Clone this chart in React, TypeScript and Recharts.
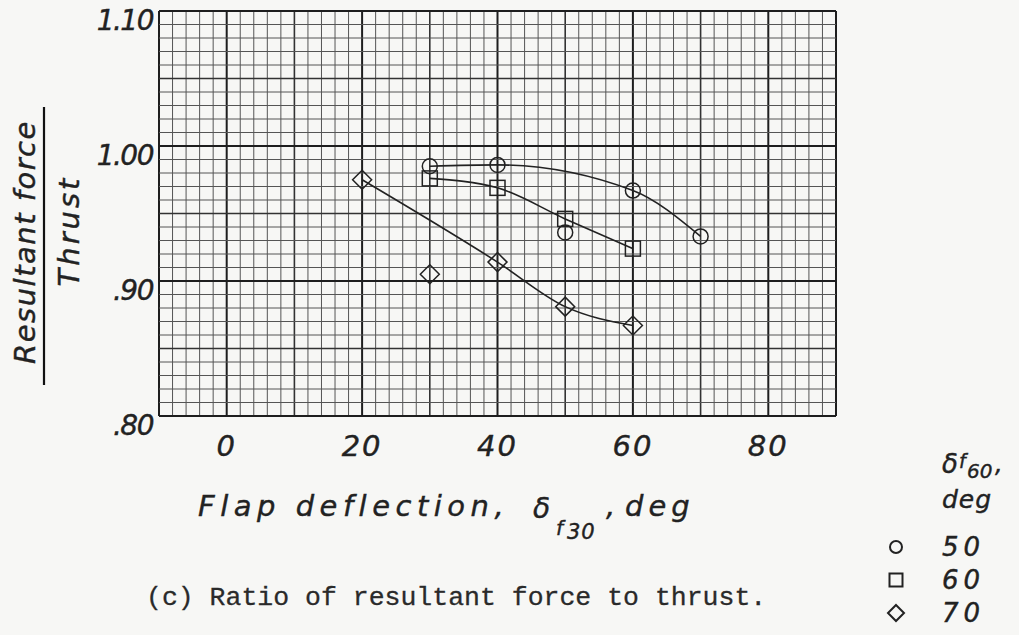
import React from 'react';
import { ComposedChart, Line, Scatter, XAxis, YAxis, ReferenceLine } from 'recharts';

// ---- axis ticks ----
const xTicks = [0, 20, 40, 60, 80];
const yTicks = [0.8, 0.9, 1.0, 1.1];
const yTickLabels = ['.80', '.90', '1.00', '1.10'];

// ---- measured points (delta_f60 = 50, 60, 70 deg) ----
const flap50 = [30, 40, 50, 60, 70];
const ratio50 = [0.985, 0.986, 0.936, 0.967, 0.933];
const flap60 = [30, 40, 50, 60];
const ratio60 = [0.976, 0.969, 0.946, 0.924];
const flap70 = [20, 30, 40, 50, 60];
const ratio70 = [0.975, 0.905, 0.914, 0.881, 0.867];

// ---- faired curves ----
const fairFlap50 = [30, 40, 60, 70];
const fairRatio50 = [0.985, 0.986, 0.967, 0.933];
const fairFlap60 = [30, 40, 50, 60];
const fairRatio60 = [0.976, 0.969, 0.946, 0.924];
const fairFlap70 = [20, 40, 50, 60];
const fairRatio70 = [0.975, 0.914, 0.881, 0.867];

const legendLabels = ['50', '60', '70'];

const toPts = (xs: number[], ys: number[]) => xs.map((x, i) => ({ x, y: ys[i] }));

const INK = '#222';
const FONT = '"DejaVu Sans", Verdana, sans-serif';

const Circle = (p: any) => (
  <circle cx={p.cx} cy={p.cy} r={7.5} fill="none" stroke={INK} strokeWidth={1.5} />
);
const Square = (p: any) => (
  <rect x={p.cx - 7.5} y={p.cy - 7.5} width={15} height={15} fill="none" stroke={INK} strokeWidth={1.5} />
);
const Diamond = (p: any) => (
  <path d={`M${p.cx},${p.cy - 9.5}L${p.cx + 9.5},${p.cy}L${p.cx},${p.cy + 9.5}L${p.cx - 9.5},${p.cy}Z`} fill="none" stroke={INK} strokeWidth={1.5} />
);

const series = [
  { name: legendLabels[0], pts: toPts(flap50, ratio50), fair: toPts(fairFlap50, fairRatio50), shape: Circle },
  { name: legendLabels[1], pts: toPts(flap60, ratio60), fair: toPts(fairFlap60, fairRatio60), shape: Square },
  { name: legendLabels[2], pts: toPts(flap70, ratio70), fair: toPts(fairFlap70, fairRatio70), shape: Diamond },
];

// graph-paper grid positions
const xGrid: number[] = [];
for (let i = 0; i <= 50; i++) xGrid.push(-10 + i * 2);
const yGrid: number[] = [];
for (let i = 0; i <= 30; i++) yGrid.push(Math.round((0.8 + i * 0.01) * 1000) / 1000);

const XTick = (props: any) => {
  const { x, y, payload } = props;
  return (
    <text x={x} y={y + 40} textAnchor="middle" fontFamily={FONT} fontStyle="italic" fontSize={29} letterSpacing={2} fill={INK} stroke={INK} strokeWidth={0.4}>
      {payload.value}
    </text>
  );
};

const YTick = (props: any) => {
  const { x, y, payload } = props;
  const idx = yTicks.findIndex((t) => Math.abs(t - payload.value) < 1e-6);
  return (
    <text x={x - 6} y={y + 19} textAnchor="end" fontFamily={FONT} fontStyle="italic" fontSize={28} letterSpacing={-1.5} fill={INK} stroke={INK} strokeWidth={0.4}>
      {idx >= 0 ? yTickLabels[idx] : ''}
    </text>
  );
};

export default function App() {
  return (
    <div style={{ position: 'absolute', left: 0, top: 0, width: 1019, height: 635, background: '#f7f7f5' }}>
      <ComposedChart width={1019} height={635} margin={{ top: 11, right: 183, bottom: 159, left: 0 }}>
        <XAxis
          type="number"
          dataKey="x"
          domain={[-10, 90]}
          ticks={xTicks}
          interval={0}
          axisLine={false}
          tickLine={false}
          tickSize={0}
          tickMargin={0}
          height={60}
          tick={XTick}
        />
        <YAxis
          type="number"
          dataKey="y"
          domain={[0.8, 1.1]}
          ticks={yTicks}
          interval={0}
          axisLine={false}
          tickLine={false}
          tickSize={0}
          tickMargin={0}
          width={159}
          tick={YTick}
        />
        {xGrid.map((v) => {
          const heavy = v % 20 === 0 || v === -10 || v === 90;
          const med = v % 10 === 0;
          return (
            <ReferenceLine
              key={'vx' + v}
              x={v}
              stroke={heavy ? '#1e1e1e' : med ? '#333' : '#555'}
              strokeWidth={heavy ? 2 : med ? 1.6 : 1}
            />
          );
        })}
        {yGrid.map((v, i) => {
          const heavy = i % 10 === 0;
          const med = i % 5 === 0;
          return (
            <ReferenceLine
              key={'hy' + i}
              y={v}
              stroke={heavy ? '#1e1e1e' : med ? '#333' : '#555'}
              strokeWidth={heavy ? 2 : med ? 1.6 : 1}
            />
          );
        })}
        {series.map((s) => (
          <Line
            key={'l' + s.name}
            data={s.fair}
            dataKey="y"
            type="monotone"
            stroke={INK}
            strokeWidth={1.6}
            dot={false}
            activeDot={false}
            isAnimationActive={false}
          />
        ))}
        {series.map((s) => (
          <Scatter key={'s' + s.name} data={s.pts} dataKey="y" shape={s.shape} isAnimationActive={false} />
        ))}
      </ComposedChart>

      <svg width={1019} height={635} style={{ position: 'absolute', left: 0, top: 0, pointerEvents: 'none' }}>
        {/* y-axis label as fraction */}
        <g fontFamily={FONT} fontStyle="italic" fill={INK} stroke={INK} strokeWidth={0.4}>
          <text x={35} y={242} transform="rotate(-90 35 242)" textAnchor="middle" fontSize={29} letterSpacing={1.5}>
            Resultant force
          </text>
          <text x={79} y={231} transform="rotate(-90 79 231)" textAnchor="middle" fontSize={29} letterSpacing={3}>
            Thrust
          </text>
        </g>
        <line x1={44} y1={107} x2={44} y2={385} stroke="#111" strokeWidth={2.2} />

        {/* x-axis label */}
        <g fontFamily={FONT} fontStyle="italic" fill={INK} stroke={INK} strokeWidth={0.4}>
          <text x={198} y={516} fontSize={29} letterSpacing={5.5}>Flap deflection,</text>
          <text x={533} y={518} fontSize={28}>δ</text>
          <text x={556} y={535} fontSize={20}>f</text>
          <text x={567} y={539} fontSize={21} letterSpacing={1}>30</text>
          <text x={606} y={516} fontSize={29}>,</text>
          <text x={625} y={516} fontSize={29} letterSpacing={5}>deg</text>
        </g>

        {/* caption */}
        <text x={146} y={605} fontFamily='"Liberation Mono", "Courier New", monospace' fontSize={26.5} fill="#2a2a2a" stroke="#2a2a2a" strokeWidth={0.3}>
          (c) Ratio of resultant force to thrust.
        </text>

        {/* legend */}
        <g fontFamily={FONT} fontStyle="italic" fill={INK} stroke={INK} strokeWidth={0.4}>
          <text x={942} y={473} fontSize={26}>δ</text>
          <text x={959} y={468} fontSize={19}>f</text>
          <text x={967} y={478} fontSize={20}>60</text>
          <text x={995} y={472} fontSize={24}>,</text>
          <text x={942} y={508} fontSize={25} letterSpacing={1}>deg</text>
        </g>
        {series.map((s, i) => {
          const cy = 547 + i * 33;
          return (
            <g key={'lg' + s.name}>
              {i === 0 && <circle cx={896} cy={cy} r={6} fill="none" stroke={INK} strokeWidth={2} />}
              {i === 1 && <rect x={889.5} y={cy - 6.5} width={13} height={13} fill="none" stroke={INK} strokeWidth={2} />}
              {i === 2 && (
                <path d={`M896,${cy - 8}L904,${cy}L896,${cy + 8}L888,${cy}Z`} fill="none" stroke={INK} strokeWidth={2} />
              )}
              <text x={942} y={cy + 9} fontFamily={FONT} fontStyle="italic" fontSize={26} letterSpacing={5} fill={INK} stroke={INK} strokeWidth={0.4}>
                {s.name}
              </text>
            </g>
          );
        })}
      </svg>
    </div>
  );
}
